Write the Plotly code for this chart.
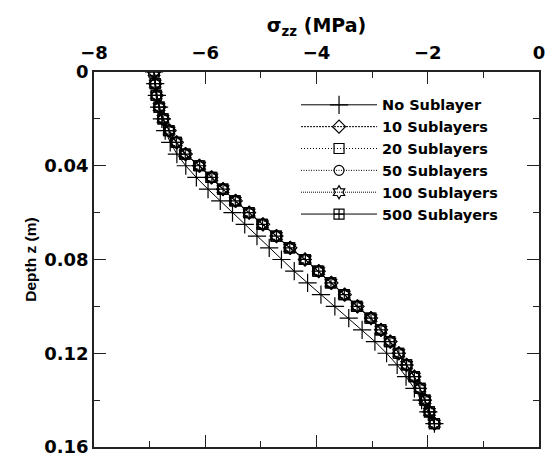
import plotly.graph_objects as go

# Depth (m)
depth = [0.000, 0.005, 0.010, 0.015, 0.020, 0.025, 0.030, 0.035, 0.040, 0.045,
         0.050, 0.055, 0.060, 0.065, 0.070, 0.075, 0.080, 0.085, 0.090, 0.095,
         0.100, 0.105, 0.110, 0.115, 0.120, 0.125, 0.130, 0.135, 0.140, 0.145, 0.150]

# sigma_zz (MPa)
no_sub = [-6.92, -6.90, -6.87, -6.83, -6.78, -6.72, -6.63, -6.51, -6.35, -6.16,
          -5.95, -5.73, -5.51, -5.29, -5.07, -4.85, -4.63, -4.40, -4.16, -3.92,
          -3.67, -3.42, -3.18, -2.95, -2.74, -2.55, -2.39, -2.24, -2.11, -1.99, -1.88]
sub10 = [-6.92, -6.90, -6.87, -6.82, -6.75, -6.64, -6.51, -6.35, -6.11, -5.89,
         -5.68, -5.45, -5.21, -4.96, -4.72, -4.47, -4.21, -3.96, -3.73, -3.49,
         -3.26, -3.02, -2.84, -2.67, -2.52, -2.38, -2.24, -2.14, -2.05, -1.97, -1.88]
sub20 = [-6.92, -6.90, -6.88, -6.83, -6.76, -6.66, -6.52, -6.37, -6.12, -5.90,
         -5.69, -5.47, -5.22, -4.98, -4.73, -4.49, -4.22, -3.98, -3.75, -3.51,
         -3.28, -3.04, -2.85, -2.69, -2.53, -2.38, -2.25, -2.14, -2.05, -1.97, -1.88]
sub50 = [-6.92, -6.90, -6.88, -6.83, -6.76, -6.65, -6.53, -6.37, -6.11, -5.89,
         -5.69, -5.47, -5.22, -4.98, -4.73, -4.49, -4.21, -3.97, -3.75, -3.51,
         -3.28, -3.03, -2.85, -2.68, -2.52, -2.38, -2.24, -2.14, -2.05, -1.97, -1.88]
sub100 = [-6.92, -6.90, -6.88, -6.83, -6.76, -6.65, -6.52, -6.36, -6.10, -5.88,
          -5.68, -5.46, -5.21, -4.97, -4.72, -4.48, -4.20, -3.96, -3.74, -3.50,
          -3.27, -3.02, -2.84, -2.68, -2.52, -2.38, -2.24, -2.14, -2.05, -1.97, -1.88]
sub500 = [-6.92, -6.90, -6.88, -6.83, -6.76, -6.65, -6.52, -6.36, -6.10, -5.88,
          -5.68, -5.46, -5.21, -4.97, -4.72, -4.48, -4.20, -3.96, -3.74, -3.50,
          -3.27, -3.02, -2.84, -2.68, -2.52, -2.38, -2.24, -2.14, -2.05, -1.97, -1.88]

names = ["No Sublayer", "10 Sublayers", "20 Sublayers", "50 Sublayers",
         "100 Sublayers", "500 Sublayers"]
series = [no_sub, sub10, sub20, sub50, sub100, sub500]
symbols = ["cross-thin-open", "diamond-open", "square-open", "circle-open",
           "hexagram-open", "square-cross-open"]
dashes = ["solid", "2px,1px", "1px,2px", "1px,1.5px", "1px,1px", "solid"]
sizes = [13, 10, 10, 10, 10, 10]

fig = go.Figure()
for name, vals, sym, dash, sz in zip(names, series, symbols, dashes, sizes):
    fig.add_trace(go.Scatter(
        x=vals, y=depth, name=name, mode="lines+markers",
        line=dict(color="black", width=1, dash=dash),
        marker=dict(symbol=sym, size=sz, color="black",
                    line=dict(color="black", width=1.2)),
    ))

font_family = "Liberation Sans, Arial, sans-serif"
wide_family = "DejaVu Sans, Liberation Sans, sans-serif"

fig.update_layout(
    width=552, height=464,
    margin=dict(l=94, r=7, t=72, b=11),
    paper_bgcolor="white", plot_bgcolor="white",
    font=dict(family=font_family, color="black"),
    showlegend=True,
    legend=dict(x=0.454, y=0.955, xanchor="left", yanchor="top",
                bgcolor="rgba(0,0,0,0)", borderwidth=0, itemwidth=76,
                font=dict(size=14.5, family=wide_family, weight="bold"),
                tracegroupgap=0),
)

fig.update_xaxes(
    range=[-8, 0], side="top", dtick=2, tick0=0,
    showgrid=False, zeroline=False,
    ticks="inside", ticklen=12, tickwidth=1.2, tickcolor="#222",
    minor=dict(dtick=1, ticks="inside", ticklen=6, tickwidth=1, tickcolor="#222", showgrid=False),
    showline=True, linecolor="#222", linewidth=1.5, mirror="ticks",
    ticklabelstandoff=4,
    tickfont=dict(size=18, family=wide_family, weight="bold"),
    title=dict(text="σ<sub>zz</sub> (MPa)", font=dict(size=19, family=wide_family, weight="bold"), standoff=4),
)
fig.update_yaxes(
    range=[0.16, 0], dtick=0.04, tick0=0,
    showgrid=False, zeroline=False,
    ticks="inside", ticklen=12, tickwidth=1.2, tickcolor="#222",
    minor=dict(dtick=0.02, ticks="inside", ticklen=6, tickwidth=1, tickcolor="#222", showgrid=False),
    showline=True, linecolor="#222", linewidth=1.5, mirror="ticks",
    tickfont=dict(size=18, family=wide_family, weight="bold"),
    title=dict(text="Depth z (m)", font=dict(size=15.5, weight="bold"), standoff=4),
)

fig.write_html("out.html", config={"displayModeBar": False},
               post_script="document.body.style.margin='0px';")
